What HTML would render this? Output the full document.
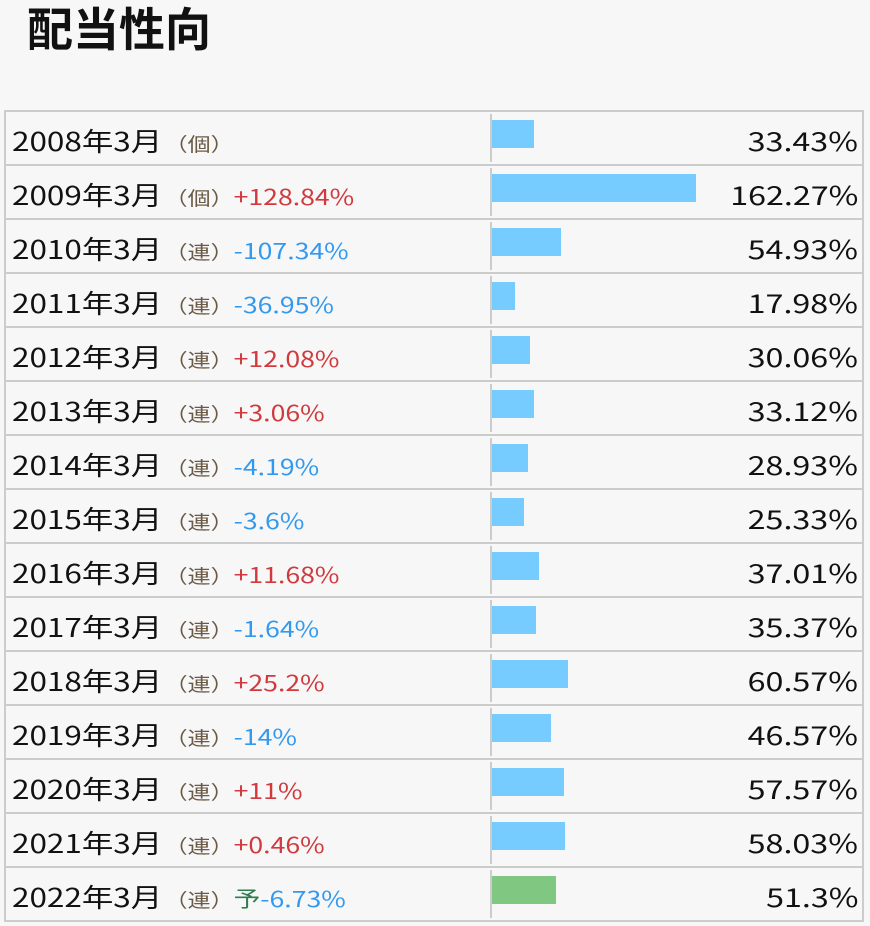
<!DOCTYPE html><html><head><meta charset="utf-8"><style>
body{margin:0;width:870px;height:926px;background:#f7f7f7;font-family:"Noto Sans CJK JP",sans-serif;position:relative;overflow:hidden}
h1{position:absolute;left:27px;top:-3px;margin:0;font-size:46px;line-height:60px;font-weight:bold;color:#111;font-family:"Noto Sans CJK JP",sans-serif}
.tbl{position:absolute;left:4px;top:110px;width:856px;height:808px;border:2px solid #ccc}
.row{position:absolute;left:0;width:856px;height:52px;border-top:2px solid #ccc}
.row:first-child{border-top:none}
.y{position:absolute;left:6px;top:12px;font-size:26px;line-height:34px;color:#111;white-space:nowrap;transform:scaleX(1.21);transform-origin:left center}
.t{font-size:19px;color:#6b5a45;margin-left:2px}
.r{color:#d0393d;font-size:22px;margin-left:0}
.b{color:#3399ee;font-size:22px;margin-left:0}
.div{position:absolute;left:484px;top:2px;width:2px;height:48px;background:#ccc}
.bar{position:absolute;left:486px;top:8px;height:28px;background:#77ccff}
.v{position:absolute;right:4px;top:12px;font-size:26px;line-height:34px;color:#111;transform:scaleX(1.24);transform-origin:right center}
</style></head><body>
<h1>配当性向</h1>
<div class="tbl" id="t"></div>
<script>
var d=[["2008","個","",33.43,"33.43%"],["2009","個","+128.84%",162.27,"162.27%"],["2010","連","-107.34%",54.93,"54.93%"],["2011","連","-36.95%",17.98,"17.98%"],["2012","連","+12.08%",30.06,"30.06%"],["2013","連","+3.06%",33.12,"33.12%"],["2014","連","-4.19%",28.93,"28.93%"],["2015","連","-3.6%",25.33,"25.33%"],["2016","連","+11.68%",37.01,"37.01%"],["2017","連","-1.64%",35.37,"35.37%"],["2018","連","+25.2%",60.57,"60.57%"],["2019","連","-14%",46.57,"46.57%"],["2020","連","+11%",57.57,"57.57%"],["2021","連","+0.46%",58.03,"58.03%"],["2022","連","-6.73%",51.3,"51.3%"]];
var h="";d.forEach(function(r,i){var c=r[2]?'<span class="'+(r[2][0]=="+"?"r":"b")+'">'+(i==14?'<span style="color:#2e7d4f">予</span>':'')+r[2]+'</span>':'';
h+='<div class="row" style="top:'+(i*54-(i?2:0))+'px;'+(i?'':'height:52px')+'"><div class="y">'+r[0]+'年3月<span class="t">（'+r[1]+'）</span>'+c+'</div><div class="div"></div><div class="bar" style="width:'+Math.round(r[3]*1.257)+'px;'+(i==14?'background:#80c882':'')+'"></div><div class="v">'+r[4]+'</div></div>';});
document.getElementById("t").innerHTML=h;
</script>
</body></html>
